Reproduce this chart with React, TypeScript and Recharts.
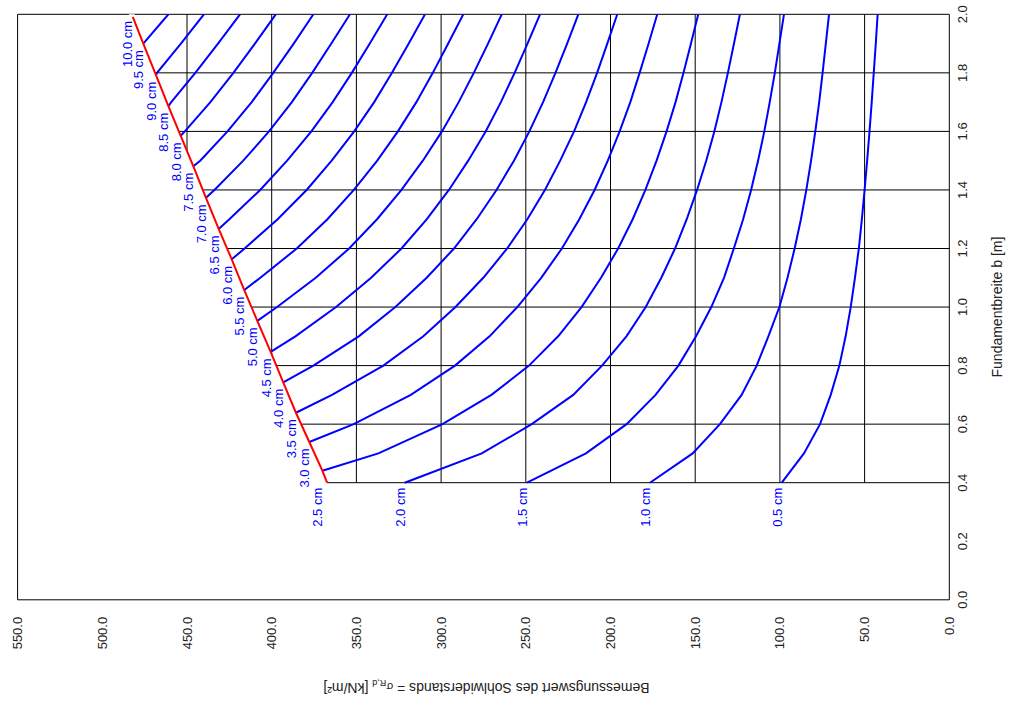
import React from 'react';
import { ComposedChart, Line, XAxis, YAxis, ReferenceLine, ReferenceArea, LabelList, Label } from 'recharts';

// b values (m) where the curves have their nodes
const bSteps = [0.4, 0.5, 0.6, 0.7, 0.8, 0.9, 1.0, 1.1, 1.2, 1.3, 1.4, 1.5, 1.6, 1.7, 1.8, 1.9, 2.0];

const thickness = ['0.5', '1.0', '1.5', '2.0', '2.5', '3.0', '3.5', '4.0', '4.5', '5.0',
  '5.5', '6.0', '6.5', '7.0', '7.5', '8.0', '8.5', '9.0', '9.5', '10.0'];

// first b of each curve (on the red limit line, or 0.4)
const startB = [0.4, 0.4, 0.4, 0.4, 0.441, 0.539, 0.639, 0.743, 0.847, 0.953,
  1.058, 1.163, 1.267, 1.373, 1.481, 1.585, 1.686, 1.792, 1.9, 2.0];

// sigma R,d [kN/m2], from startB upwards
const sigma05 = [98.9, 85.8, 76.3, 70.0, 64.9, 61.2, 58.2, 55.7, 53.4, 51.6, 50.0, 48.5, 47.1, 45.8, 44.6, 43.4, 42.3];
const sigma10 = [176.7, 151.5, 135.4, 122.6, 113.7, 106.8, 100.3, 95.5, 91.3, 87.6, 84.4, 81.6, 79.1, 76.8, 74.8, 72.9, 71.0];
const sigma15 = [249.3, 214.5, 190.5, 173.4, 159.9, 149.5, 140.5, 133.0, 127.2, 121.7, 117.0, 112.9, 109.2, 106.0, 103.0, 100.3, 97.6];
const sigma20 = [321.5, 276.0, 246.5, 222.0, 205.0, 190.6, 179.2, 170.0, 161.9, 155.0, 148.9, 143.5, 138.7, 134.5, 130.7, 127.1, 123.6];
const sigma25 = [370.1, 337.0, 299.2, 270.3, 248.1, 230.9, 217.1, 205.6, 195.5, 186.9, 179.4, 172.8, 166.9, 161.6, 156.9, 152.5, 148.2];
const sigma30 = [377.8, 351.6, 317.9, 291.8, 271.4, 255.0, 240.9, 228.7, 218.4, 209.4, 201.6, 194.6, 188.3, 182.8, 177.5, 172.4];
const sigma35 = [385.7, 364.4, 334.1, 310.5, 291.5, 275.1, 261.0, 249.1, 238.7, 229.7, 221.5, 214.4, 207.9, 201.9, 196.0];
const sigma40 = [393.2, 375.4, 348.6, 327.0, 308.5, 292.4, 279.0, 267.3, 257.0, 247.9, 239.8, 232.5, 225.6, 219.0];
const sigma45 = [400.6, 386.0, 362.0, 341.3, 323.4, 308.4, 295.4, 284.0, 273.7, 264.7, 256.6, 249.0, 241.6];
const sigma50 = [408.5, 396.8, 374.0, 354.3, 337.8, 323.4, 310.8, 299.5, 289.6, 280.7, 272.3, 264.2];
const sigma55 = [416.2, 406.7, 385.2, 367.1, 351.5, 337.7, 325.5, 314.6, 304.9, 295.8, 286.9];
const sigma60 = [423.6, 416.0, 396.5, 379.4, 364.6, 351.3, 339.5, 329.0, 319.1, 309.5];
const sigma65 = [431.3, 425.0, 406.8, 390.9, 376.6, 364.0, 352.7, 342.1, 331.8];
const sigma70 = [438.8, 433.8, 416.8, 401.6, 388.1, 376.1, 364.8, 353.8];
const sigma75 = [446.3, 442.2, 426.1, 411.8, 399.1, 387.0, 375.4];
const sigma80 = [453.7, 451.3, 436.2, 422.6, 409.9, 397.6];
const sigma85 = [461.0, 459.3, 445.1, 431.7, 418.7];
const sigma90 = [468.3, 467.7, 453.6, 440.0];
const sigma95 = [475.8, 461.0];
const sigma100 = [482.6];

// red limit line
const limitB = [0.4, 0.441, 0.539, 0.639, 0.743, 0.847, 0.953, 1.058, 1.163, 1.267, 1.373, 1.481, 1.585, 1.686, 1.792, 1.9, 2.0];
const limitSigma = [367.3, 370.1, 377.8, 385.7, 393.2, 400.6, 408.5, 416.2, 423.6, 431.3, 438.8, 446.3, 453.7, 461.0, 468.3, 475.8, 482.6];

// grid, clipped at the red line
const gridB = [0.4, 0.6, 0.8, 1.0, 1.2, 1.4, 1.6, 1.8];
const gridBEnd = [367.3, 382.6, 397.3, 411.9, 426.3, 440.7, 454.8, 468.9];
const gridSigma = [50, 100, 150, 200, 250, 300, 350, 400, 450];
const gridSigmaStart = [0.4, 0.4, 0.4, 0.4, 0.4, 0.4, 0.4, 0.839, 1.533];

const xTicks = [0, 50, 100, 150, 200, 250, 300, 350, 400, 450, 500, 550];
const yTicks = [0, 0.2, 0.4, 0.6, 0.8, 1.0, 1.2, 1.4, 1.6, 1.8, 2.0];

const sigmaByCurve = [sigma05, sigma10, sigma15, sigma20, sigma25, sigma30, sigma35, sigma40, sigma45, sigma50,
  sigma55, sigma60, sigma65, sigma70, sigma75, sigma80, sigma85, sigma90, sigma95, sigma100];

const curves = thickness.map((t, i) => {
  const bs = [startB[i], ...bSteps.filter((b) => b > startB[i] + 1e-6)];
  return { name: `${t} cm`, points: bs.map((b, k) => ({ b, s: sigmaByCurve[i][k] })) };
});

const limitLine = limitB.map((b, i) => ({ b, s: limitSigma[i] }));

const FONT = '"Liberation Sans", Arial, Helvetica, sans-serif';
const W = 1017;
const H = 709;
const PLOT_LEFT = 17.6;
const PLOT_TOP = 14.3;
const PLOT_RIGHT = 949.3;
const PLOT_BOTTOM = 599.8;
const BASE_Y = PLOT_TOP + (PLOT_BOTTOM - PLOT_TOP) * 0.8; // y of b = 0.4

const XTick = (props: any) => {
  const { x, payload } = props;
  const y = PLOT_BOTTOM + 17;
  return (
    <text x={x} y={y} dy="0.35em" transform={`rotate(-90 ${x} ${y})`} textAnchor="end"
      fontSize={13} fontFamily={FONT} fill="#222">
      {Number(payload.value).toFixed(1)}
    </text>
  );
};

const YTick = (props: any) => {
  const { y, payload } = props;
  const x = PLOT_RIGHT + 13;
  return (
    <text x={x} y={y} dy="0.35em" transform={`rotate(-90 ${x} ${y})`} textAnchor="middle"
      fontSize={13} fontFamily={FONT} fill="#222">
      {Number(payload.value).toFixed(1)}
    </text>
  );
};

// label sits just left of / below the first point of its curve,
// and drops under the b = 0.4 line when it would run into it
const startLabel = (text: string) => (props: any) => {
  if (props.index !== 0) return null;
  const px = props.x ?? props.viewBox?.x;
  const py = props.y ?? props.viewBox?.y;
  const x = px - 4.5;
  const y = py > BASE_Y - 15 ? BASE_Y + 5 : py + 6.5;
  return (
    <text x={x} y={y} dy="0.35em" transform={`rotate(-90 ${x} ${y})`} textAnchor="end"
      fontSize={13} fontFamily={FONT} fill="#0000ff">
      {text}
    </text>
  );
};

const YTitle = () => {
  const x = 997;
  const y = (PLOT_TOP + PLOT_BOTTOM) / 2;
  return (
    <text x={x} y={y} dy="0.35em" transform={`rotate(-90 ${x} ${y})`} textAnchor="middle"
      fontSize={14} fontFamily={FONT} fill="#222">
      Fundamentbreite b [m]
    </text>
  );
};

const XTitle = () => {
  const x = (PLOT_LEFT + PLOT_RIGHT) / 2 + 3;
  const y = 688;
  return (
    <text x={x} y={y} dy="0.35em" transform={`rotate(180 ${x} ${y})`} textAnchor="middle"
      fontSize={14} fontFamily={FONT} fill="#222">
      Bemessungswert des Sohlwiderstands = <tspan fontSize={11}>σ</tspan>
      <tspan fontSize={9} dy={3}>R,d</tspan>
      <tspan dy={-3}> [kN/m²]</tspan>
    </text>
  );
};

export default function App() {
  return (
    <div style={{ position: 'absolute', left: 0, top: 0, width: W, height: H, background: '#fff' }}>
      <ComposedChart width={W} height={H}
        margin={{ top: PLOT_TOP, left: PLOT_LEFT, right: W - PLOT_RIGHT - 60, bottom: H - PLOT_BOTTOM - 100 }}>
        <XAxis type="number" dataKey="s" domain={[0, 550]} reversed ticks={xTicks} interval={0}
          axisLine={false} tickLine={false} height={100} tick={XTick} allowDataOverflow>
          <Label content={XTitle} />
        </XAxis>
        <YAxis type="number" dataKey="b" orientation="right" domain={[0, 2]} ticks={yTicks} interval={0}
          axisLine={false} tickLine={false} width={60} tick={YTick} allowDataOverflow>
          <Label content={YTitle} />
        </YAxis>

        {gridB.map((b, i) => (
          <ReferenceLine key={`h${b}`} segment={[{ x: 0, y: b }, { x: gridBEnd[i], y: b }]}
            stroke="#000" strokeWidth={1} />
        ))}
        {gridSigma.map((s, i) => (
          <ReferenceLine key={`v${s}`} segment={[{ x: s, y: gridSigmaStart[i] }, { x: s, y: 2 }]}
            stroke="#000" strokeWidth={1} />
        ))}
        <ReferenceArea x1={0} x2={550} y1={0} y2={2} fill="none" stroke="#000" strokeWidth={1} />

        {curves.map((c) => (
          <Line key={c.name} data={c.points} dataKey="b" type="linear"
            stroke={c.points.length > 1 ? '#0000ff' : 'none'} strokeWidth={2}
            dot={false} activeDot={false} isAnimationActive={false}>
            <LabelList dataKey="b" content={startLabel(c.name)} />
          </Line>
        ))}
        <Line data={limitLine} dataKey="b" type="linear" stroke="#ff0000" strokeWidth={2}
          dot={false} activeDot={false} isAnimationActive={false} />
      </ComposedChart>
    </div>
  );
}
